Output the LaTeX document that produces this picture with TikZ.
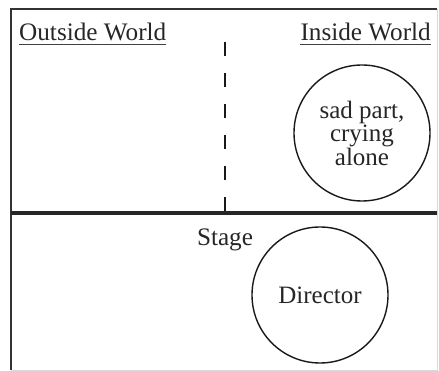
\documentclass[tikz,border=0pt]{standalone}
\usepackage{fontspec}
\setmainfont{Liberation Serif}
\usepackage{xcolor}
\usepackage{tikz}
\usetikzlibrary{positioning}

\begin{document}
\begin{tikzpicture}[
    x=1pt, y=-1pt,
    label/.style={inner sep=0pt, text=black!85, font=\fontsize{25.2}{23.5}\selectfont},
    partcircle/.style={circle, draw=black!90, line width=1.4pt, minimum size=136pt, inner sep=0pt, align=center, text=black!85, font=\fontsize{25}{23.5}\selectfont},
    frame/.style={draw=black!80, line width=2.2pt},
    faint/.style={draw=black!15, line width=1pt},
    divider/.style={draw=black!85, line width=3.5pt},
    border/.style={draw=black!90, line width=1.8pt, dash pattern=on 14pt off 17pt},
    uline/.style={draw=black!75, line width=1.3pt}
]
\useasboundingbox (0,0) rectangle (439,371);

% Frame
\coordinate (tl) at (11,9);
\coordinate (tr) at (437,9);
\coordinate (bl) at (11,370);
\coordinate (br) at (437,370);
\coordinate (ml) at (11,213);
\coordinate (mr) at (437,213);
\draw[faint] (tr) -- (br) -- (bl);
\draw[frame] (bl) -- (tl) -- (tr);
\draw[divider] (ml) -- (mr);

% Inside / outside border
\coordinate (gapTop) at (225,42);
\coordinate (gapBot) at (225,213);
\draw[border] (gapTop) -- (gapBot);

% Headings
\node[label, anchor=base west] (outside) at (19,41) {Outside World};
\node[label, anchor=base east] (inside) at (431,41) {Inside World};
\draw[uline] ([yshift=-3.5pt]outside.base west) -- ([yshift=-3.5pt]outside.base east);
\draw[uline] ([yshift=-3.5pt]inside.base west) -- ([yshift=-3.5pt]inside.base east);

% Parts
\node[partcircle] (sad) at (362,133) {sad part,\\crying\\alone};
\node[label, anchor=base] (stage) at (225,246) {Stage};
\node[partcircle] (director) at (320,295) {Director};

\end{tikzpicture}
\end{document}
